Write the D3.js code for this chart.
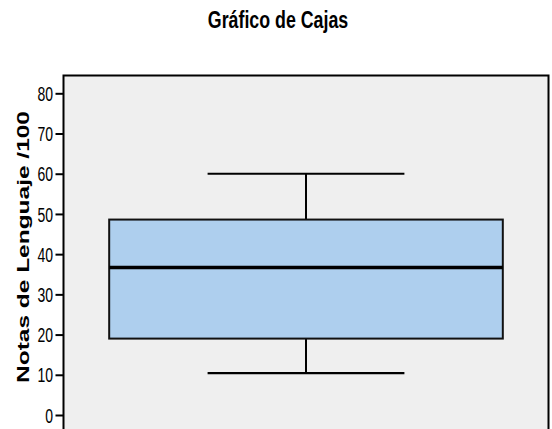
<!DOCTYPE html>
<html>
<head>
<meta charset="utf-8">
<script src="https://cdn.jsdelivr.net/npm/d3@7"></script>
<style>
html,body{margin:0;padding:0;background:#fff;}
svg{display:block;}
</style>
</head>
<body>
<svg id="chart" width="552" height="429"></svg>
<script>
const categories = ["Notas de Lenguaje"];
const whiskerLow = [10.4];
const q1 = [19.0];
const median = [36.7];
const q3 = [48.6];
const whiskerHigh = [60.0];
const tickValues = [0, 10, 20, 30, 40, 50, 60, 70, 80];
const titleText = "Gráfico de Cajas";
const yLabelText = "Notas de Lenguaje /100";

const svg = d3.select("#chart");
const frame = {left: 63.5, top: 75.5, right: 548.5, bottom: 440};

const y = d3.scaleLinear().domain([0, 80]).range([415, 93.3]);
const x = d3.scaleBand().domain(categories).range([frame.left, frame.right]).padding(0.104);

// plot background
svg.append("rect")
  .attr("x", frame.left).attr("y", frame.top)
  .attr("width", frame.right - frame.left).attr("height", frame.bottom - frame.top)
  .attr("fill", "#efefef").attr("stroke", "#000").attr("stroke-width", 2);

// title
svg.append("g").attr("transform", "translate(278,28) scale(1,1.3)")
  .append("text").attr("text-anchor", "middle")
  .attr("font-family", "Liberation Sans, Arial, sans-serif")
  .attr("font-weight", "bold").attr("font-size", 17.8)
  .attr("fill", "#000").text(titleText);

// y axis
const yAxis = d3.axisLeft(y).tickValues(tickValues).tickSize(8).tickPadding(3).tickFormat(d3.format("d"));
const ga = svg.append("g").attr("transform", `translate(${frame.left},0)`).call(yAxis);
ga.select(".domain").remove();
ga.selectAll(".tick line").attr("stroke", "#000").attr("stroke-width", 2);
ga.selectAll(".tick text").each(function() {
  const t = d3.select(this);
  t.attr("font-family", "Liberation Sans, Arial, sans-serif")
   .attr("font-size", 14).attr("fill", "#000")
   .attr("dy", null).attr("x", null)
   .attr("text-anchor", "end")
   .attr("transform", "translate(-10.5,7.2) scale(1,1.45)")
   .attr("y", 0);
});

// y label
svg.append("g").attr("transform", "translate(29,247) rotate(-90) scale(1.44,1)")
  .append("text").attr("text-anchor", "middle")
  .attr("font-family", "Liberation Sans, Arial, sans-serif")
  .attr("font-weight", "bold").attr("font-size", 17)
  .attr("fill", "#000").text(yLabelText);

// boxes
categories.forEach((c, i) => {
  const x0 = x(c), bw = x.bandwidth(), cx = x0 + bw / 2, cap = bw / 2;
  const g = svg.append("g");
  g.append("line").attr("x1", cx).attr("x2", cx).attr("y1", y(whiskerHigh[i])).attr("y2", y(q3[i]))
    .attr("stroke", "#000").attr("stroke-width", 2);
  g.append("line").attr("x1", cx).attr("x2", cx).attr("y1", y(q1[i])).attr("y2", y(whiskerLow[i]))
    .attr("stroke", "#000").attr("stroke-width", 2);
  g.append("line").attr("x1", cx - cap / 2).attr("x2", cx + cap / 2).attr("y1", y(whiskerHigh[i])).attr("y2", y(whiskerHigh[i]))
    .attr("stroke", "#000").attr("stroke-width", 2.2);
  g.append("line").attr("x1", cx - cap / 2).attr("x2", cx + cap / 2).attr("y1", y(whiskerLow[i])).attr("y2", y(whiskerLow[i]))
    .attr("stroke", "#000").attr("stroke-width", 2.2);
  g.append("rect").attr("x", x0).attr("y", y(q3[i])).attr("width", bw).attr("height", y(q1[i]) - y(q3[i]))
    .attr("fill", "#aecfee").attr("stroke", "#111").attr("stroke-width", 2);
  g.append("line").attr("x1", x0).attr("x2", x0 + bw).attr("y1", y(median[i])).attr("y2", y(median[i]))
    .attr("stroke", "#000").attr("stroke-width", 3.5);
});
</script>
</body>
</html>
